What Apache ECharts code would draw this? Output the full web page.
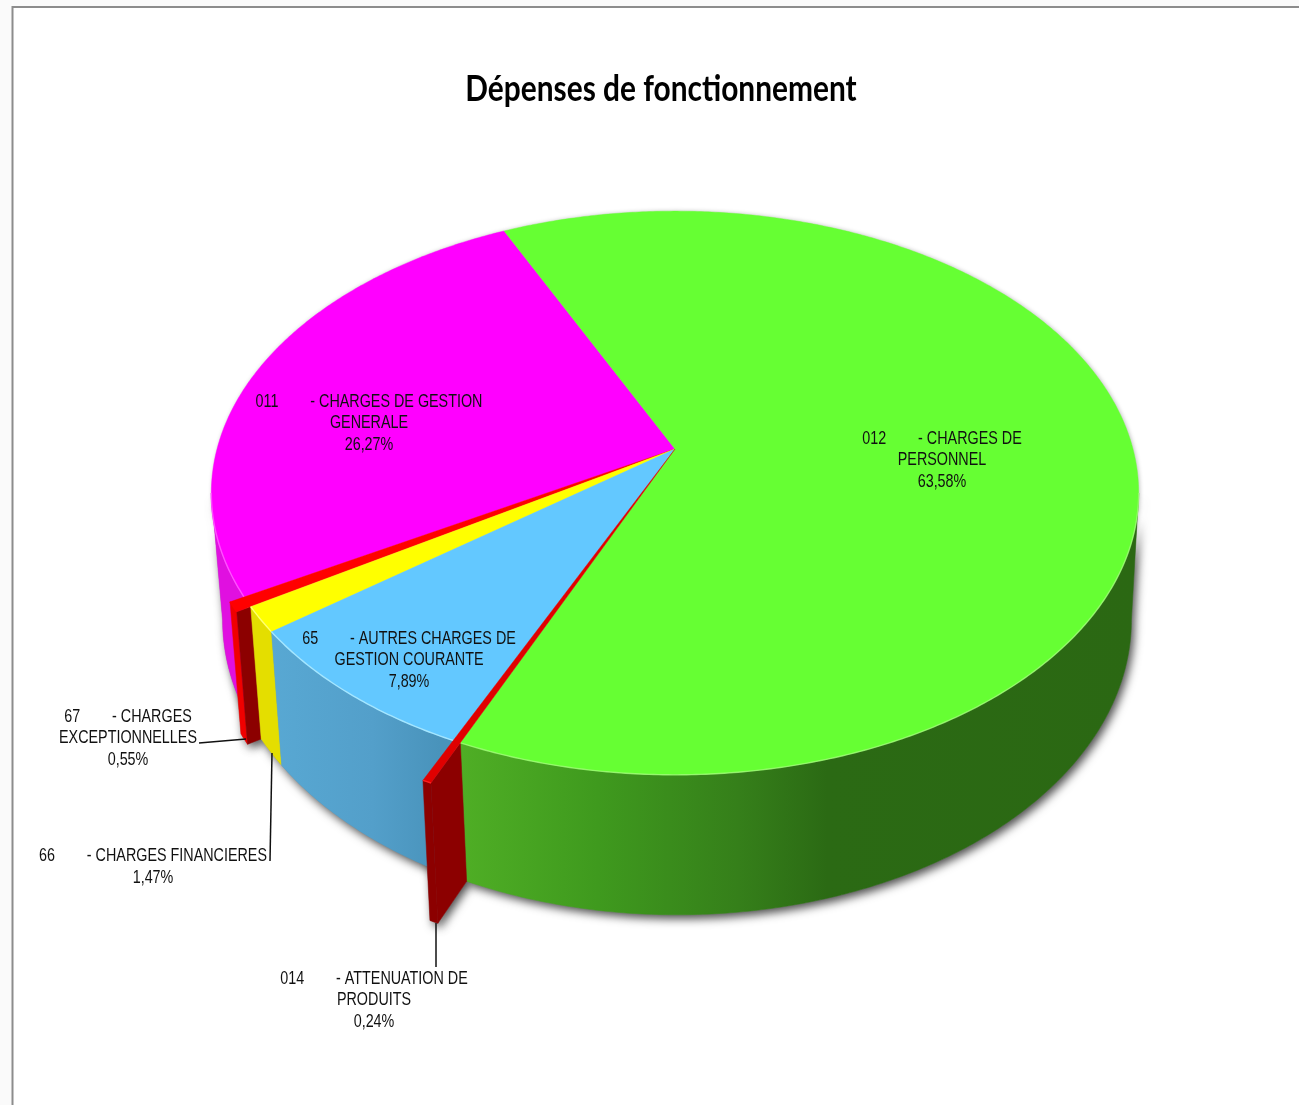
<!DOCTYPE html>
<html>
<head>
<meta charset="utf-8">
<style>html,body{margin:0;padding:0;background:#fff}#c{width:1299px;height:1105px}</style>
<script src="https://cdn.jsdelivr.net/npm/echarts@6/dist/echarts.min.js"></script>
</head>
<body>
<div id="c"></div>
<script>
// ---- data ----
const chartTitle = 'Dépenses de fonctionnement';
const sliceCodes = ['012', '014', '65', '66', '67', '011'];
const sliceNames = [
  ['- CHARGES DE', 'PERSONNEL'],
  ['- ATTENUATION DE', 'PRODUITS'],
  ['- AUTRES CHARGES DE', 'GESTION COURANTE'],
  ['- CHARGES FINANCIERES'],
  ['- CHARGES', 'EXCEPTIONNELLES'],
  ['- CHARGES DE GESTION', 'GENERALE']
];
const sliceValues = [63.58, 0.24, 7.89, 1.47, 0.55, 26.27];
// radial pull-out of each slice
const sliceExplode = [1, 1.115, 1, 1, 1.03, 1];

// ---- style ----
const topColors = ['#66FF33', '#E00000', '#63C8FF', '#FFFF00', '#FF0000', '#FF00FF'];
const rimColors = ['rgba(170,255,130,0.7)', '#FF2020', '#A4E6FF', '#FFFF70', '#FF0000', '#FF50FF'];
const G = echarts.graphic.LinearGradient;
const wallFills = [
  new G(462, 0, 1139, 0, [
    {offset: 0, color: '#4FAE25'}, {offset: 0.2, color: '#3F9A1E'},
    {offset: 0.41, color: '#357F1A'}, {offset: 0.54, color: '#2B6A14'}, {offset: 1, color: '#2B6813'}
  ], true),
  '#8C0000',
  new G(272, 0, 440, 0, [
    {offset: 0, color: '#58A8D3'}, {offset: 0.6, color: '#539FCA'}, {offset: 1, color: '#4993BB'}
  ], true),
  '#E4DE00', '#F00000', '#E010E0'
];
const radialFills = [null, '#8C0000', null, null, '#8C0000', null];
const paintOrder = [5, 4, 3, 2, 0, 1];

// ---- layout ----
const startAngle = 334.8;
const apexX = 675, apexY = 449;
const radX = 458, radY = 275, tilt = 0.156;     // perspective of the top face
const depthScaleX = 0.98, depthScaleY = 1.046, depthY = 125, depthShiftX = 2;
const frontFrom = 99, frontTo = 261;            // rim range facing the viewer
const labelCenters = [[942, 460], [374, 1000], [409, 660], [153, 867], [128, 738], [369, 423]];
const leaderLines = [null, [[436, 923], [436, 967]], null, [[272, 753], [270, 861]], [[199, 743], [246, 739]], null];

function unit(a, r) {
  const t = a * Math.PI / 180, u = r * Math.sin(t), v = -r * Math.cos(t), w = 1 - tilt * v;
  return [radX * u / w, radY * v / w];
}
const top3 = (a, r) => { const p = unit(a, r); return [apexX + p[0], apexY + p[1]]; };
const bot3 = (a, r) => { const p = unit(a, r); return [apexX + depthShiftX + p[0] * depthScaleX, apexY + depthY + p[1] * depthScaleY]; };
function arc(fn, a0, a1, r) {
  const n = Math.max(2, Math.ceil(Math.abs(a1 - a0) / 0.5)), out = [];
  for (let k = 0; k <= n; k++) out.push(fn(a0 + (a1 - a0) * k / n, r));
  return out;
}
const total = sliceValues.reduce((a, b) => a + b, 0);
const starts = [];
sliceValues.reduce((acc, v, i) => { starts[i] = acc; return acc + v / total * 360; }, startAngle);

function sliceFaces(i, value) {
  const a0 = starts[i], a1 = a0 + value / total * 360, r = sliceExplode[i];
  const walls = [];
  let rim = [];
  [0, 360].forEach(off => {
    const from = Math.max(a0, frontFrom + off), to = Math.min(a1, frontTo + off);
    if (to > from) {
      walls.push({pts: arc(top3, from, to, r).concat(arc(bot3, to, from, r)), fill: wallFills[i]});
      rim = arc(top3, from, to, r);
    }
  });
  if (r > 1) walls.push({pts: [top3(a0, 1), top3(a0, r), bot3(a0, r), bot3(a0, 1)], fill: radialFills[i]});
  return {walls: walls, top: [[apexX, apexY]].concat(arc(top3, a0, a1, r)), rim: rim};
}

const shadowLayer = {
  type: 'custom', coordinateSystem: 'none', z: 2, silent: true,
  data: paintOrder.map(i => [sliceValues[i], i]),
  renderItem: (p, api) => {
    const i = api.value(1), f = sliceFaces(i, api.value(0));
    return {type: 'group', children: f.walls.map(w => ({
      type: 'polygon', shape: {points: w.pts},
      style: {fill: '#888', shadowBlur: 10, shadowColor: 'rgba(0,0,0,0.7)', shadowOffsetX: 3, shadowOffsetY: 4}
    })).concat([{
      type: 'polygon', shape: {points: f.top},
      style: {fill: '#ddd', shadowBlur: 4, shadowColor: 'rgba(0,0,0,0.25)', shadowOffsetX: 1, shadowOffsetY: 0}
    }])};
  }
};
const wallLayer = {
  type: 'custom', coordinateSystem: 'none', z: 3, silent: true,
  data: paintOrder.map(i => [sliceValues[i], i]),
  renderItem: (p, api) => {
    const f = sliceFaces(api.value(1), api.value(0));
    return {type: 'group', children: f.walls.map(w => ({
      type: 'polygon', shape: {points: w.pts},
      style: {fill: w.fill, stroke: w.fill, lineWidth: 0.5}
    }))};
  }
};
const topLayer = {
  type: 'custom', coordinateSystem: 'none', z: 4, silent: true,
  data: paintOrder.map(i => [sliceValues[i], i]),
  renderItem: (p, api) => {
    const i = api.value(1), f = sliceFaces(i, api.value(0));
    const kids = [{type: 'polygon', shape: {points: f.top}, style: {fill: topColors[i], stroke: topColors[i], lineWidth: 0.4}}];
    if (f.rim.length > 2) kids.push({type: 'polyline', shape: {points: f.rim}, style: {fill: 'none', stroke: rimColors[i], lineWidth: 1.4}});
    return {type: 'group', children: kids};
  }
};
const labelFont = '19px "Liberation Sans",Arial,sans-serif';
const labelLayer = {
  type: 'custom', coordinateSystem: 'none', z: 5, silent: true,
  data: sliceValues.map((v, i) => [v, i]),
  renderItem: (p, api) => {
    const i = api.value(1), v = api.value(0);
    const name = sliceNames[i].slice();
    name[0] = sliceCodes[i] + '        ' + name[0];
    const lines = name.concat([v.toFixed(2).replace('.', ',') + '%']);
    const kids = [{
      type: 'text', x: labelCenters[i][0], y: labelCenters[i][1], scaleX: 0.755,
      style: {text: lines.join('\n'), font: labelFont, fill: '#111', align: 'center', verticalAlign: 'middle', lineHeight: 21.5}
    }];
    if (leaderLines[i]) kids.push({type: 'polyline', shape: {points: leaderLines[i]}, style: {fill: 'none', stroke: '#111', lineWidth: 1.5}});
    return {type: 'group', children: kids};
  }
};

const chart = echarts.init(document.getElementById('c'), null, {renderer: 'canvas'});
chart.setOption({
  animation: false,
  backgroundColor: '#FAFAFA',
  graphic: [
    {type: 'rect', z: 0, shape: {x: 12.5, y: 7, width: 1400, height: 1200}, style: {fill: '#fff', stroke: '#8C8C8C', lineWidth: 2}},
    {type: 'text', z: 1, x: 661, y: 89, scaleX: 0.83,
     style: {text: chartTitle, font: 'bold 36px Lato,"Open Sans",sans-serif', fill: '#000', align: 'center', verticalAlign: 'middle'}}
  ],
  series: [shadowLayer, wallLayer, topLayer, labelLayer]
});
</script>
</body>
</html>
